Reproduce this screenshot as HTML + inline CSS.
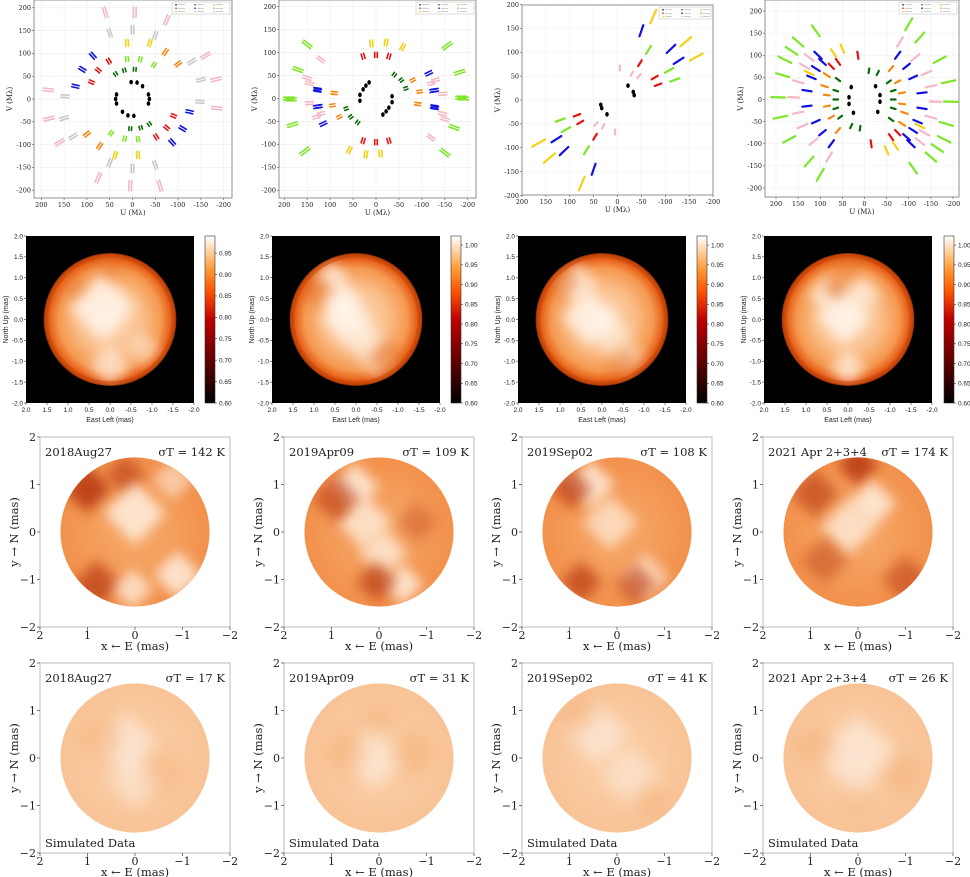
<!DOCTYPE html>
<html><head><meta charset="utf-8">
<style>
html,body{margin:0;padding:0;background:#fff;}
svg{display:block;}
</style></head>
<body>
<svg id="fig" width="970" height="877" viewBox="0 0 970 877" xmlns="http://www.w3.org/2000/svg">
<defs>
<filter id="blur6" x="-50%" y="-50%" width="200%" height="200%"><feGaussianBlur stdDeviation="6"/></filter>
<filter id="blur8" x="-50%" y="-50%" width="200%" height="200%"><feGaussianBlur stdDeviation="8"/></filter>
<linearGradient id="heatbar" x1="0" y1="1" x2="0" y2="0">
<stop offset="0" stop-color="#000"/><stop offset="0.25" stop-color="#600000"/><stop offset="0.5" stop-color="#bf0000"/>
<stop offset="0.67" stop-color="#ff5500"/><stop offset="0.8" stop-color="#ff9933"/><stop offset="0.9" stop-color="#ffcc99"/><stop offset="1" stop-color="#fff"/>
</linearGradient>
<radialGradient id="limb2"><stop offset="0" stop-color="#fde0c2"/><stop offset="0.5" stop-color="#fabd88"/><stop offset="0.78" stop-color="#f5984f"/><stop offset="0.92" stop-color="#e8621a"/><stop offset="0.985" stop-color="#b03000"/><stop offset="1" stop-color="#701200"/></radialGradient>
<radialGradient id="base3"><stop offset="0" stop-color="#f7ab6c"/><stop offset="1" stop-color="#f2914c"/></radialGradient>
<radialGradient id="base4"><stop offset="0" stop-color="#fbd0a8"/><stop offset="1" stop-color="#f8c396"/></radialGradient>
</defs>
</svg>
<script>
// ---------- DATA ----------
const uvColorNames = ["black","darkgreen","lightgreen","red","blue","orange","gold","silver","pink"];
const uvU_1 = [3,-10,-22,-35,-37,-35, -5,18,37, 12,-17,-47, 52,75,90, 87,110,125, -72,-100, 12,-38, 50,0,-50,-130,-150,-148, 60,-5,-75,-160,-183,-185];
const uvV_1 = [37,36,28,10,0,-10, 65,63,55, 88,87,75, 83,63,37, 95,65,28, 103,77, 123,123, 145,152,140,82,42,-6, 190,190,173,95,43,-20];
const uvC_1 = [0,0,0,0,0,0, 1,1,1, 2,2,2, 3,3,3, 4,4,4, 5,5, 6,6, 7,7,7,7,7,7, 8,8,8,8,8,8];
const uvU_2 = [15,22,28,35,35, -40,-55,-65, 28,0,-28, 10,-22,-58, -80,-95,-92, 90,-115,-128,-128, 127,125, -130,-145,-150,-120, 190,170,150,-155,-182,-185, 145,120];
const uvV_2 = [35,28,20,8,-5, 52,40,22, 92,95,92, 120,122,112, 40,15,-12, 12,55,18,-20, 18,-17, 40,10,-45,-85, 0,63,118,115,57,2, 33,-33];
const uvC_2 = [0,0,0,0,0, 1,1,1, 3,3,3, 6,6,6, 5,5,5, 5,4,4,4, 4,4, 8,8,8,8, 2,2,2,2,2,2, 8,8];
const uvU_3 = [-22,-33,-35, -5,-30,-45, -47,-78,-85, -65,-108,-120, -50,-112,-128, -75,-143,-165];
const uvV_3 = [30,17,10, 67,55,50, 77,47,32, 105,62,42, 145,107,82, 175,122,90];
const uvC_3 = [0,0,0, 8,8,8, 3,3,3, 2,2,2, 4,4,4, 6,6,6];
const uvU_4 = [30,35,35,25, 60,65,65,65,55,30,10, 85,90,85,85,75,60, 75,60,15, 105,95,110,120,130,130,110,95,75, 70,50,125, 125,135,150,160,150,140,115,80, 150,165,180,185,195,190,170,125,100,110];
const uvV_4 = [28,5,-10,-30, 45,20,0,-20,-40,-60,-65, 55,30,10,-15,-40,-70, 75,85,100, 100,85,70,50,20,-15,-50,-75,-100, 105,115,60, 95,75,40,5,-30,-60,-95,-130, 130,110,90,55,5,-40,-90,-140,-170,155];
const uvC_4 = [0,0,0,0, 1,1,1,1,1,1,1, 5,5,5,5,5,5, 3,3,3, 4,4,4,4,4,4,4,4,4, 6,6,6, 8,8,8,8,8,8,8,8, 2,2,2,2,2,2,2,2,2,2];
const uvTicks = [200,150,100,50,0,-50,-100,-150,-200];

const spotX_r2 = [[0.2,0.0,-0.8,0.9,0.0],[0.6,0.35,0.25,-0.2,-0.5,0.95,-0.7],[0.6,0.3,-0.2,-0.6,0.95,-0.5],[0.1,-0.35,0.5,0.0,0.3,0.0]];
const spotY_r2 = [[0.3,-1.1,-0.7,0.8,1.3],[1.0,0.45,0.0,-0.5,-1.0,0.7,-0.9],[0.85,0.05,-0.35,-0.9,0.9,-1.1],[0.05,0.6,0.6,-1.15,0.75,1.35]];
const spotR_r2 = [[0.55,0.35,0.3,0.3,0.3],[0.3,0.35,0.4,0.35,0.3,0.3,0.3],[0.35,0.45,0.35,0.3,0.3,0.3],[0.45,0.3,0.3,0.3,0.2,0.25]];
const spotL_r2 = [[1,0.8,0.6,-0.4,-0.4],[0.9,1,1,0.8,0.6,-0.6,-0.6],[0.9,1,0.7,0.6,-0.6,-0.5],[1,0.8,0.9,0.9,-0.8,-0.5]];

const spotX_r3 = [[1.0,0.2,0.8,0.0,-0.9,-0.8,0.05],[0.5,0.3,-0.1,-0.5,0.9,0.05,-0.8],[0.55,0.15,-0.6,0.95,0.75,-0.4],[0.0,0.9,-1.0,-0.3,0.2,0.7]];
const spotY_r3 = [[0.9,1.2,-1.1,0.4,-0.9,1.1,-1.2],[0.95,0.2,-0.45,-1.1,0.7,-1.05,0.2],[1.0,0.2,-0.95,0.9,-1.05,-1.1],[1.4,0.8,-1.0,0.6,0.1,-0.6]];
const spotR_r3 = [[0.35,0.3,0.35,0.45,0.35,0.3,0.3],[0.35,0.4,0.35,0.3,0.35,0.3,0.3],[0.35,0.4,0.35,0.3,0.3,0.3],[0.3,0.35,0.35,0.35,0.4,0.35]];
const spotL_r3 = [[-1,-0.7,-0.8,1,1,0.7,0.9],[1,0.9,0.9,1,-0.7,-0.8,-0.4],[1,0.8,0.8,-0.8,-0.8,-0.7],[-1,-0.7,-0.6,1,0.9,-0.5]];

const spotX_r4 = [[0.2,0.0,0.7,-0.6],[0.1,0.7,-0.7,0.0],[0.4,-0.3,0.8,-0.7],[0.0,0.9,-0.9,0.0]];
const spotY_r4 = [[0.3,-0.5,0.4,-0.3],[0.0,0.1,0.1,0.8],[0.5,-0.4,0.9,-0.9],[0.05,0.2,-0.3,-0.9]];
const spotR_r4 = [[0.45,0.4,0.35,0.35],[0.45,0.35,0.35,0.3],[0.45,0.45,0.3,0.3],[0.6,0.35,0.35,0.3]];
const spotL_r4 = [[1,0.8,-0.6,-0.5],[1,-0.7,-0.7,-0.5],[1,0.8,-0.5,-0.5],[1,-0.6,-0.6,-0.3]];

const dates = ["2018Aug27","2019Apr09","2019Sep02","2021 Apr 2+3+4"];
const sigmaT3 = ["142","109","108","174"];
const sigmaT4 = ["17","31","41","26"];
const imgTicks = [2.0,1.5,1.0,0.5,0.0,-0.5,-1.0,-1.5,-2.0];
const cbTicks1 = [0.60,0.65,0.70,0.75,0.80,0.85,0.90,0.95];
const cbTicks2 = [0.60,0.65,0.70,0.75,0.80,0.85,0.90,0.95,1.00];
const diskTicks = [2,1,0,-1,-2];

// ---------- HELPERS ----------
const NS = "http://www.w3.org/2000/svg";
const svg = document.getElementById('fig');
function mk(tag, attrs, parent, name, inter) {
  const e = document.createElementNS(NS, tag);
  for (const k in attrs) e.setAttribute(k, attrs[k]);
  
  
  (parent || svg).appendChild(e);
  return e;
}
function txt(x, y, s, size, anchor, parent, name, extra) {
  const t = mk('text', Object.assign({x:x, y:y, 'font-size':size, 'text-anchor':anchor||'middle', fill:'#222'}, extra||{}), parent, name, false);
  t.textContent = s;
  return t;
}
const fmtNeg = v => (v<0 ? '-' + Math.abs(v) : '' + v);
const mathNeg = v => (v<0 ? '\u2212' + Math.abs(v) : '' + v);
const colorMap = {black:'#000', darkgreen:'#0a6b0a', lightgreen:'#7ee62a', red:'#e81010', blue:'#1010e0', orange:'#f58a10', gold:'#f5d010', silver:'#c8c8c8', pink:'#f4b8c4'};

// ---------- ROW 1 ----------
const uvPanels = [
  {box:[34,0,232,198], cx:132.5, cy:99, s:0.456, U:uvU_1, V:uvV_1, C:uvC_1, dbl:true},
  {box:[279,0,476,198], cx:376, cy:98.5, s:0.459, U:uvU_2, V:uvV_2, C:uvC_2, dbl:true},
  {box:[522,5,713,195], cx:617.5, cy:100, s:0.4775, U:uvU_3, V:uvV_3, C:uvC_3, dbl:false},
  {box:[765,0,959,197], cx:864.5, cy:99.5, s:0.4425, U:uvU_4, V:uvV_4, C:uvC_4, dbl:false}
];
uvPanels.forEach((p, pi) => {
  const g = mk('g', {'font-family':'DejaVu Serif, Liberation Serif, serif'}, svg, 'uv-panel-' + (pi+1), false);
  const [x0,y0,x1,y1] = p.box;
  const xs = u => p.cx - u*p.s;
  const ys = v => p.cy - v*p.s;
  uvTicks.forEach(t => {
    if (xs(t) > x0 && xs(t) < x1) mk('line', {x1:xs(t), x2:xs(t), y1:y0, y2:y1, stroke:'#eee', 'stroke-width':0.6}, g, 'uv-grid-x', false);
    if (ys(t) > y0 && ys(t) < y1) mk('line', {x1:x0, x2:x1, y1:ys(t), y2:ys(t), stroke:'#eee', 'stroke-width':0.6}, g, 'uv-grid-y', false);
  });
  for (let i = 0; i < p.U.length; i++) {
    [1,-1].forEach(sg => {
      const u = p.U[i]*sg, v = p.V[i]*sg;
      const k = p.dbl ? 0.06 : 0.08;
      const ax = xs(u*(1-k)), ay = ys(v*(1-k)), bx = xs(u*(1+k)), by = ys(v*(1+k));
      const col = colorMap[uvColorNames[p.C[i]]];
      if (p.C[i] === 0) {
        mk('ellipse', {cx:xs(u), cy:ys(v), rx:1.8, ry:2.3, fill:col}, g, 'uv-point', false);
        return;
      }
      if (p.dbl) {
        const nx = -(by-ay), ny = (bx-ax); const nl = Math.hypot(nx,ny)||1;
        [-1.3,1.3].forEach(o => {
          mk('line', {x1:ax+nx/nl*o, y1:ay+ny/nl*o, x2:bx+nx/nl*o, y2:by+ny/nl*o, stroke:col, 'stroke-width':1.6, 'stroke-linecap':'round'}, g, 'uv-point', false);
        });
      } else {
        mk('line', {x1:ax, y1:ay, x2:bx, y2:by, stroke:col, 'stroke-width':2.2, 'stroke-linecap':'round'}, g, 'uv-point', false);
      }
    });
  }
  mk('rect', {x:x0, y:y0, width:x1-x0, height:y1-y0, fill:'none', stroke:'#777', 'stroke-width':0.8}, g, 'uv-axes-frame', false);
  uvTicks.forEach(t => {
    const X = xs(t), Y = ys(t);
    if (X >= x0-1 && X <= x1+1) {
      mk('line', {x1:X, x2:X, y1:y1, y2:y1+2, stroke:'#555', 'stroke-width':0.6}, g, 'uv-x-tick', false);
      txt(X, y1+9, fmtNeg(t), 6.5, 'middle', g, 'uv-x-tick-label');
    }
    if (Y >= y0-1 && Y <= y1+1) {
      mk('line', {x1:x0-2, x2:x0, y1:Y, y2:Y, stroke:'#555', 'stroke-width':0.6}, g, 'uv-y-tick', false);
      txt(x0-3, Y+2.3, fmtNeg(t), 6.5, 'end', g, 'uv-y-tick-label');
    }
  });
  txt((x0+x1)/2, y1+17, 'U (M\u03bb)', 7, 'middle', g, 'uv-x-axis-title');
  const yt = txt(x0-22, (y0+y1)/2, 'V (M\u03bb)', 7, 'middle', g, 'uv-y-axis-title');
  yt.setAttribute('transform', `rotate(-90 ${x0-22} ${(y0+y1)/2})`);
  const lw = pi===2 ? 52 : 58;
  mk('rect', {x:x1-lw-2, y:y0+2, width:lw, height:12, fill:'#fff', stroke:'#bbb', 'stroke-width':0.5}, g, 'uv-legend', false);
  for (let r = 0; r < 3; r++) for (let c = 0; c < 3; c++) {
    mk('circle', {cx:x1-lw+2+c*19, cy:y0+4.8+r*3.4, r:0.8, fill:colorMap[uvColorNames[(r*3+c)%9]]}, g, 'uv-legend-entry', false);
    mk('line', {x1:x1-lw+4+c*19, x2:x1-lw+11+c*19, y1:y0+4.8+r*3.4, y2:y0+4.8+r*3.4, stroke:'#999', 'stroke-width':0.5}, g, 'uv-legend-label', false);
  }
});

// diamond-shaped soft spots
function drawSpots(g, cx, cy, ppm, X, Y, R, L, bright, dark, blurId, op) {
  for (let i = 0; i < X.length; i++) {
    const px = cx - X[i]*ppm, py = cy - Y[i]*ppm, d = R[i]*ppm*1.45;
    mk('polygon', {points:`${px},${py-d} ${px+d},${py} ${px},${py+d} ${px-d},${py}`, fill:L[i] > 0 ? bright : dark, opacity:Math.abs(L[i])*op, filter:'url(#' + blurId + ')'}, g, L[i] > 0 ? 'bright-spot' : 'dark-spot', false);
  }
}

// ---------- ROW 2 ----------
const imgX = [26,272,518,764];
const cbX = [205,451,697,944];
imgX.forEach((ix, ci) => {
  const g = mk('g', {'font-family':'Liberation Sans, DejaVu Sans, sans-serif'}, svg, 'image-panel-' + (ci+1), false);
  const iy = 236, w = 168, h = 167;
  const ppm = w/4, cx = ix + w/2, cy = iy + h/2, rad = 1.57*ppm;
  mk('rect', {x:ix, y:iy, width:w, height:h, fill:'#000'}, g, 'image-background', false);
  const cid = 'clip2_' + ci;
  const cp = mk('clipPath', {id:cid}, g, 'disk-clip', false);
  mk('circle', {cx:cx, cy:cy, r:rad}, cp, 'disk-clip-shape', false);
  mk('circle', {cx:cx, cy:cy, r:rad, fill:'url(#limb2)'}, g, 'stellar-disk', false);
  const sg = mk('g', {'clip-path':'url(#' + cid + ')'}, g, 'disk-features', false);
  drawSpots(sg, cx, cy, ppm, spotX_r2[ci], spotY_r2[ci], spotR_r2[ci], spotL_r2[ci], '#fff6ee', '#e06a22', 'blur6', 0.8);
  mk('circle', {cx:cx, cy:cy, r:rad-2, fill:'none', stroke:'#d0500c', 'stroke-width':5, opacity:0.55}, g, 'limb-darkening', false);
  imgTicks.forEach(t => {
    const X = cx - t*ppm, Y = cy - t*(h/4);
    mk('line', {x1:X, x2:X, y1:iy+h, y2:iy+h+2, stroke:'#333', 'stroke-width':0.6}, g, 'image-x-tick', false);
    txt(X, iy+h+9, t.toFixed(1), 6.5, 'middle', g, 'image-x-tick-label');
    mk('line', {x1:ix-2, x2:ix, y1:Y, y2:Y, stroke:'#333', 'stroke-width':0.6}, g, 'image-y-tick', false);
    txt(ix-3, Y+2.3, t.toFixed(1), 6.5, 'end', g, 'image-y-tick-label');
  });
  txt(cx, iy+h+19, 'East Left (mas)', 7, 'middle', g, 'image-x-axis-title');
  const yl = txt(ix-18, cy, 'North Up (mas)', 7, 'middle', g, 'image-y-axis-title');
  yl.setAttribute('transform', `rotate(-90 ${ix-18} ${cy})`);
  const bx = cbX[ci];
  mk('rect', {x:bx, y:iy, width:10, height:h, fill:'url(#heatbar)', stroke:'#333', 'stroke-width':0.6}, g, 'colorbar', false);
  const ticks = ci === 0 ? cbTicks1 : cbTicks2;
  const vmax = ci === 0 ? 0.99 : 1.023;
  ticks.forEach(t => {
    const Y = iy + h - (t - 0.6)/(vmax - 0.6)*h;
    mk('line', {x1:bx+10, x2:bx+12, y1:Y, y2:Y, stroke:'#333', 'stroke-width':0.6}, g, 'colorbar-tick', false);
    txt(bx+14, Y+2.3, t.toFixed(2), 6.5, 'start', g, 'colorbar-tick-label');
  });
});

// ---------- ROWS 3 & 4 ----------
const axL = [40,284,522,763];
function diskRow(rowY, sx, sy, sr, sl, fillId, bright, dark, sig, rowName, simulated) {
  axL.forEach((ax, ci) => {
    const g = mk('g', {'font-family':'DejaVu Serif, Liberation Serif, serif'}, svg, rowName + '-panel-' + (ci+1), false);
    const S = 190, ppm = S/4, cx = ax + S/2, cy = rowY + S/2, rad = 1.57*ppm;
    const cid = rowName + 'clip' + ci;
    const cp = mk('clipPath', {id:cid}, g, 'disk-clip', false);
    mk('circle', {cx:cx, cy:cy, r:rad}, cp, 'disk-clip-shape', false);
    mk('circle', {cx:cx, cy:cy, r:rad, fill:'url(#' + fillId + ')'}, g, 'stellar-disk', false);
    const sg = mk('g', {'clip-path':'url(#' + cid + ')'}, g, 'disk-features', false);
    drawSpots(sg, cx, cy, ppm, sx[ci], sy[ci], sr[ci], sl[ci], bright, dark, simulated ? 'blur8' : 'blur6', simulated ? 0.7 : 0.8);
    mk('rect', {x:ax, y:rowY, width:S, height:S, fill:'none', stroke:'#aaa', 'stroke-width':0.8}, g, 'axes-frame', false);
    diskTicks.forEach(t => {
      const X = cx - t*ppm, Y = cy - t*ppm;
      mk('line', {x1:X, x2:X, y1:rowY+S, y2:rowY+S+3, stroke:'#444', 'stroke-width':0.7}, g, 'x-tick', false);
      txt(X, rowY+S+12, mathNeg(t), 11, 'middle', g, 'x-tick-label');
      mk('line', {x1:ax-3, x2:ax, y1:Y, y2:Y, stroke:'#444', 'stroke-width':0.7}, g, 'y-tick', false);
      txt(ax-4, Y+4, mathNeg(t), 11, 'end', g, 'y-tick-label');
    });
    txt(cx, rowY+S+23, 'x \u2190 E (mas)', 11.5, 'middle', g, 'x-axis-title');
    const yl = txt(ax-22, cy, 'y \u2192 N (mas)', 11.5, 'middle', g, 'y-axis-title');
    yl.setAttribute('transform', `rotate(-90 ${ax-22} ${cy})`);
    txt(ax+5, rowY+19, dates[ci], 11.5, 'start', g, 'date-label');
    txt(ax+S-5, rowY+19, '\u03c3T = ' + sig[ci] + ' K', 11.5, 'end', g, 'sigma-t-label');
    if (simulated) txt(ax+5, rowY+S-6, 'Simulated Data', 11.5, 'start', g, 'simulated-data-label');
  });
}
diskRow(437, spotX_r3, spotY_r3, spotR_r3, spotL_r3, 'base3', '#fff3e6', '#b3300a', sigmaT3, 'row3', false);
diskRow(663, spotX_r4, spotY_r4, spotR_r4, spotL_r4, 'base4', '#fdece0', '#f3aa70', sigmaT4, 'row4', true);
</script>
</body></html>
